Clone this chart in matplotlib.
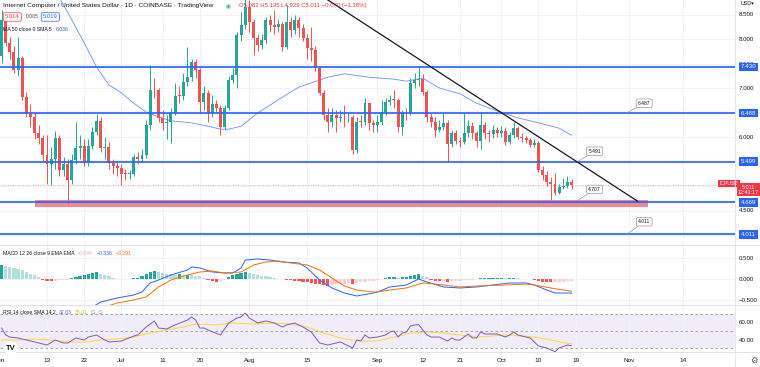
import numpy as np
import matplotlib
matplotlib.use('Agg')
import matplotlib.pyplot as plt
import matplotlib.transforms as mtransforms

W, H = 760, 367
FONT = ['Liberation Sans', 'DejaVu Sans']
plt.rcParams['font.family'] = FONT

# ---------------- data ----------------
open_first = 7.65
closes = [8.39, 7.92, 7.74, 7.37, 7.61, 6.82, 6.49, 6.41, 6.08, 5.98,
          5.63, 5.45, 5.55, 5.98, 5.33, 5.45, 5.12, 5.53, 5.78, 5.82,
          5.47, 5.82, 6.10, 6.33, 5.78, 5.80, 5.47, 5.41, 5.37, 5.25,
          5.24, 5.25, 5.59, 5.55, 5.63, 6.25, 6.96, 6.95, 6.39, 6.29,
          6.30, 6.49, 6.84, 6.83, 7.12, 7.22, 7.53, 7.37, 6.71, 6.90,
          6.49, 6.67, 6.59, 6.20, 6.59, 7.16, 7.27, 8.08, 8.29, 8.65,
          8.35, 8.02, 7.88, 7.98, 8.39, 8.29, 8.25, 8.31, 7.84, 8.35,
          8.18, 8.39, 8.22, 8.02, 7.82, 7.78, 7.41, 6.90, 6.45, 6.31,
          6.45, 6.39, 6.41, 6.40, 6.41, 5.73, 6.31, 6.30, 6.69, 6.29,
          6.25, 6.31, 6.51, 6.71, 6.76, 6.75, 6.20, 6.49, 6.48, 7.10,
          7.16, 7.18, 6.92, 6.41, 6.31, 6.14, 6.20, 6.29, 5.86, 6.08,
          5.92, 5.90, 6.08, 6.22, 6.08, 5.92, 6.25, 6.08, 6.06, 6.14,
          6.08, 6.12, 5.90, 6.04, 6.18, 6.00, 5.98, 5.94, 5.84, 5.88,
          5.33, 5.22, 5.08, 5.04, 4.86, 4.98, 5.00, 5.082, 5.011]
highs = [8.60, 8.55, 8.05, 7.85, 8.05, 7.65, 6.92, 6.68, 6.50, 6.25,
         6.05, 6.05, 5.80, 6.12, 6.05, 5.60, 5.55, 5.65, 6.30, 6.05,
         5.95, 5.95, 6.20, 6.47, 6.40, 6.00, 5.90, 5.55, 5.50, 5.45,
         5.35, 5.33, 5.65, 5.70, 5.75, 6.35, 7.47, 7.20, 7.00, 6.55,
         6.45, 6.60, 7.10, 7.05, 7.30, 7.84, 7.60, 7.60, 7.40, 7.05,
         6.95, 6.85, 6.75, 6.65, 6.65, 7.25, 7.40, 8.15, 8.55, 9.00,
         8.80, 8.40, 8.10, 8.10, 8.45, 8.50, 8.60, 8.40, 8.35, 8.70,
         8.45, 8.50, 8.45, 8.30, 8.10, 8.24, 7.85, 7.45, 6.95, 6.60,
         6.60, 6.55, 6.55, 6.65, 6.50, 6.45, 6.40, 6.45, 6.80, 6.70,
         6.35, 6.45, 6.75, 6.80, 6.85, 6.95, 6.80, 6.55, 6.60, 7.20,
         7.30, 7.43, 7.28, 6.95, 6.50, 6.40, 6.35, 6.49, 6.35, 6.15,
         6.15, 6.00, 6.49, 6.35, 6.30, 6.12, 6.51, 6.30, 6.15, 6.25,
         6.20, 6.22, 6.20, 6.10, 6.30, 6.22, 6.08, 6.02, 5.98, 5.95,
         5.92, 5.40, 5.30, 5.18, 5.27, 5.05, 5.16, 5.20, 5.135]
lows = [7.52, 7.85, 7.60, 7.30, 7.25, 6.75, 6.40, 6.20, 5.95, 5.85,
        5.50, 5.05, 5.02, 5.35, 5.20, 5.20, 4.62, 5.05, 5.45, 5.55,
        5.40, 5.40, 5.75, 6.05, 5.70, 5.55, 5.35, 5.25, 5.20, 5.02,
        5.12, 5.15, 5.20, 5.45, 5.50, 5.58, 6.15, 6.80, 6.30, 6.15,
        5.95, 5.88, 6.45, 6.70, 6.75, 7.05, 7.15, 7.20, 6.50, 6.55,
        6.30, 6.40, 6.50, 6.04, 6.15, 6.55, 7.10, 7.00, 7.95, 8.20,
        8.15, 7.67, 7.75, 7.80, 7.90, 8.15, 8.10, 8.15, 7.75, 7.80,
        8.05, 8.10, 8.05, 7.95, 7.60, 7.55, 7.35, 6.85, 6.35, 6.10,
        6.20, 6.10, 6.30, 6.20, 6.30, 5.65, 5.68, 6.20, 6.25, 6.15,
        6.10, 6.10, 6.25, 6.45, 6.65, 6.60, 6.10, 6.04, 6.35, 6.45,
        7.00, 7.05, 6.85, 6.30, 6.20, 6.00, 6.10, 6.15, 5.49, 5.80,
        5.85, 5.80, 5.85, 6.00, 5.95, 5.80, 5.75, 5.95, 5.90, 5.98,
        6.00, 6.00, 5.84, 5.85, 5.98, 5.95, 5.90, 5.88, 5.80, 5.80,
        5.28, 5.12, 5.00, 4.707, 4.82, 4.84, 4.93, 4.95, 4.929]

ma50_idx = [14, 17, 20, 23, 26, 28, 29, 32, 35, 38, 41, 46, 50, 53, 55, 58, 62, 67,
            72, 79, 83, 89, 95, 98, 102, 106, 111, 115, 120, 125, 130, 135, 138]
ma50_val = [8.85, 8.39, 7.92, 7.43, 7.06, 6.96, 6.90, 6.69, 6.51, 6.41, 6.33, 6.29,
            6.22, 6.16, 6.16, 6.22, 6.49, 6.76, 7.02, 7.22, 7.29, 7.22, 7.18, 7.14,
            7.20, 7.00, 6.88, 6.69, 6.53, 6.39, 6.29, 6.18, 6.036]

hline_levels = [7.430, 6.488, 5.499, 4.669, 4.011]
zone_price = (4.57, 4.71)
zone_idx = (8.2, 156.4)
trend_idx = [72, 154]
trend_price = [9.18, 4.69]
last_price = 5.011

callouts = [  # (label, point idx, point price, text idx, text price)
    ('6.487', 151.3, 6.488, 155.6, 6.69),
    ('5.491', 139.5, 5.499, 143.6, 5.71),
    ('4.707', 139.5, 4.707, 143.6, 4.93),
    ('4.011', 151.3, 4.011, 155.6, 4.27),
]

macd_hist = [0.33, 0.31, 0.29, 0.26, 0.23, 0.21, 0.17, 0.13, 0.09,
             0.04, -0.02, -0.04, -0.05, -0.04,
             -0.03, -0.02, -0.02, 0.02,
             0.05, 0.08, 0.10, 0.13, 0.15, 0.17,
             0.12, 0.10, 0.06, 0.03, 0.01,
             0.00, -0.01, 0.00, 0.02, 0.03,
             0.06, 0.11, 0.16, 0.19, 0.17,
             0.14, 0.12, 0.11, 0.10, 0.11, 0.10,
             0.10, 0.09, 0.07, 0.06, 0.03,
             -0.03, -0.05, -0.06, -0.05, -0.03,
             0.05, 0.09, 0.13, 0.15, 0.17, 0.14,
             0.11, 0.09, 0.08, 0.07, 0.05, 0.03,
             0.01, -0.01, -0.02, -0.03, -0.04,
             -0.05, -0.06, -0.07, -0.09, -0.11, -0.13, -0.15, -0.16,
             -0.15, -0.13, -0.12, -0.11, -0.10, -0.11, -0.09, -0.08, -0.06, -0.05, -0.04, -0.03,
             0.00, 0.02, 0.04, 0.04, 0.03, 0.04, 0.05, 0.07, 0.10, 0.11, 0.07, 0.04,
             -0.02, -0.04, -0.05, -0.05, -0.06, -0.05, -0.05, -0.04,
             -0.03, -0.02, -0.02, -0.01,
             0.02, 0.02, 0.02, 0.03, 0.03, 0.03, 0.02, 0.02, 0.03, 0.02, 0.01, 0.00, -0.01,
             -0.02, -0.04, -0.06, -0.07, -0.08, -0.08,
             -0.07, -0.06, -0.05, -0.046]

macd_idx = [22, 24, 28, 32, 34, 36, 38, 41, 45, 46, 48, 51, 54, 56, 58, 59, 62, 65, 68,
            72, 74, 77, 80, 83, 86, 90, 91, 94, 98, 101, 103, 107, 111, 115, 119, 123,
            127, 129, 132, 134, 138]
macd_val = [-0.667, -0.548, -0.452, -0.381, -0.31, -0.095, -0.024, 0.095, 0.214, 0.286,
            0.262, 0.167, 0.143, 0.143, 0.262, 0.452, 0.476, 0.452, 0.405, 0.381, 0.262,
            -0.024, -0.214, -0.333, -0.405, -0.333, -0.31, -0.19, -0.143, 0.0, -0.071,
            -0.19, -0.214, -0.19, -0.143, -0.095, -0.095, -0.143, -0.262, -0.333, -0.336]
signal_idx = [25, 28, 32, 35, 38, 41, 45, 48, 51, 54, 58, 61, 64, 67, 70, 74, 77, 80,
              83, 86, 90, 91, 94, 98, 102, 105, 111, 115, 122, 127, 129, 133, 138]
signal_val = [-0.667, -0.571, -0.5, -0.429, -0.19, -0.024, 0.095, 0.167, 0.19, 0.143,
              0.167, 0.333, 0.405, 0.429, 0.381, 0.333, 0.214, 0.024, -0.167, -0.262,
              -0.31, -0.31, -0.262, -0.214, -0.095, -0.119, -0.19, -0.167, -0.143,
              -0.119, -0.143, -0.214, -0.291]

rsi_idx = [0, 1, 2, 4, 6, 8, 11, 13, 15, 16, 18, 20, 21, 23, 25, 26, 29, 32, 33, 35,
           37, 38, 40, 42, 45, 46, 47, 48, 49, 50, 53, 55, 57, 58, 59, 60, 62, 64, 66,
           68, 69, 71, 73, 75, 77, 79, 82, 85, 86, 87, 88, 89, 91, 93, 94, 95, 96, 97,
           98, 99, 100, 101, 102, 103, 104, 106, 108, 109, 110, 111, 113, 114, 115,
           116, 117, 119, 120, 122, 123, 124, 125, 127, 128, 130, 132, 134, 135, 137, 138]
rsi_val = [53.5, 45.3, 42.9, 41.8, 39.4, 37.1, 33.5, 39.4, 35.9, 35.9, 41.8, 39.4, 42.9,
           45.3, 39.4, 37.1, 38.2, 44.1, 45.3, 54.7, 61.8, 53.5, 52.4, 57.1, 62.9, 66.5,
           62.9, 53.5, 53.5, 51.2, 45.3, 59.4, 65.3, 66.5, 71.2, 65.3, 59.4, 61.8, 59.4,
           54.7, 57.1, 59.4, 54.7, 48.8, 35.9, 33.5, 37.1, 30.0, 39.4, 38.5, 45.3, 41.8,
           42.9, 45.3, 48.8, 50.0, 42.9, 47.6, 48.8, 55.9, 57.1, 57.5, 51.2, 45.3, 42.9,
           42.9, 38.2, 41.8, 39.4, 39.4, 46.5, 41.8, 41.8, 48.8, 46.5, 46.5, 46.5, 42.9,
           45.3, 48.8, 45.3, 42.9, 41.8, 32.4, 30.0, 25.6, 30.0, 33.5, 32.83]
rsima_idx = [0, 4, 8, 12, 16, 20, 24, 28, 32, 36, 40, 44, 47, 52, 56, 61, 66, 70, 74,
             78, 83, 87, 91, 95, 99, 103, 107, 111, 115, 122, 126, 129, 133, 137, 138]
rsima_val = [39.4, 39.4, 40.6, 39.4, 37.1, 37.1, 39.4, 40.6, 42.9, 47.6, 51.2, 54.7,
             58.2, 57.1, 59.4, 58.2, 59.4, 58.2, 54.7, 47.6, 40.6, 38.2, 38.2, 42.9,
             47.6, 48.8, 47.6, 45.3, 42.9, 45.3, 44.1, 42.9, 39.4, 35.5, 35.01]

tick_idx = [11, 20, 29, 39, 48, 60, 74, 91, 102, 111, 121, 130, 139, 152, 165]
tick_lab = ['13', '22', 'Jul', '11', '20', 'Aug', '15', 'Sep', '12', '21', 'Oct',
            '10', '19', 'Nov', '14']

# ---------------- figure ----------------
GREEN, RED = '#26a69a', '#ef5350'
BLUE = '#2962ff'
TXT = '#131722'
GRID = '#f0f3fa'
FS = 4.4
LFS = 3.7

fig = plt.figure(figsize=(W / 100, H / 100), dpi=100)
fig.patch.set_facecolor('white')


def frect(x0, y0, x1, y1):
    return [x0 / W, 1 - y1 / H, (x1 - x0) / W, (y1 - y0) / H]


ax = fig.add_axes(frect(0, 0, 735, 245))
axm = fig.add_axes(frect(0, 245, 735, 305), sharex=ax)
axr = fig.add_axes(frect(0, 305, 735, 352), sharex=ax)

PX, X0 = 4.13, 1.57
ax.set_xlim((0 - X0) / PX, (735 - X0) / PX)
ax.set_ylim(8 - (245 - 39) / 49, 8 + 39 / 49)
axm.set_ylim(-(305 - 279) / 42, (279 - 245) / 42)
axr.set_ylim(70 - (352 - 314) / 0.85, 70 + (314 - 305) / 0.85)

for a in (ax, axm, axr):
    for s in a.spines.values():
        s.set_visible(False)
    a.set_xticks(tick_idx)
    a.grid(True, axis='x', color=GRID, lw=0.8, zorder=0)
    a.tick_params(axis='both', length=0, labelsize=FS, labelcolor=TXT)
    a.yaxis.tick_right()
ax.tick_params(labelbottom=False)
axm.tick_params(labelbottom=False)
axr.set_xticklabels(tick_lab)
axr.tick_params(axis='x', pad=4.4, labelsize=4.6)

# main price ticks
pticks = [4.0, 4.5, 5.0, 5.5, 6.0, 6.5, 7.0, 7.5, 8.0, 8.5]
plabs = ['' if p in (4.0, 5.0, 5.5, 6.5) else f'{p:.3f}' for p in pticks]
ax.set_yticks(pticks)
ax.set_yticklabels(plabs)
ax.grid(True, axis='y', color=GRID, lw=0.8, zorder=0)
ax.tick_params(axis='y', pad=2.5)

axm.set_yticks([0.5, 0.0, -0.5])
axm.set_yticklabels(['0.500', '0.000', '\u22120.500'])
axm.grid(True, axis='y', color=GRID, lw=0.8, zorder=0)
axm.tick_params(axis='y', pad=2.5)
axr.set_yticks([60, 40])
axr.set_yticklabels(['60.00', '40.00'])
axr.tick_params(axis='y', pad=2.5)

# ---------------- candles ----------------
idx = np.arange(len(closes))
c = np.array(closes)
o = np.array([open_first] + closes[:-1])
h = np.array(highs)
l = np.array(lows)
up = c >= o
cols = np.where(up, GREEN, RED)
ax.vlines(idx, l, h, colors=cols, lw=0.7, zorder=4)
ax.bar(idx, np.maximum(np.abs(c - o), 0.018), bottom=np.minimum(o, c), width=0.72,
       color=cols, linewidth=0, zorder=5)

# MA 50
ax.plot(ma50_idx, ma50_val, color='#4f7cff', lw=0.6, alpha=0.85, zorder=3)

# zone rectangle
ax.fill_between(zone_idx, zone_price[0], zone_price[1], color='#f6737b', alpha=0.85,
                lw=0, zorder=6)
# horizontal levels
for lv in hline_levels:
    ax.axhline(lv, color=BLUE, lw=1.5, alpha=0.85, zorder=7)
# trend line
ax.plot(trend_idx, trend_price, color=TXT, lw=0.9, zorder=8)
# current price dotted line
ax.axhline(last_price, color='#f23645', lw=0.6, ls=(0, (1, 2)), alpha=0.6, zorder=2)

# callouts
for lab, pi, pp, ti, tp in callouts:
    ax.annotate(lab, xy=(pi, pp), xytext=(ti, tp), fontsize=3.6, color=TXT,
                ha='center', va='center', zorder=9,
                bbox=dict(boxstyle='round,pad=0.35,rounding_size=0.3', fc='white',
                          ec='#9598a1', lw=0.5),
                arrowprops=dict(arrowstyle='-', color='#9598a1', lw=0.5,
                                shrinkA=0, shrinkB=0))

# right-axis level tags
tr = mtransforms.blended_transform_factory(fig.transFigure, ax.transData)
for lv in hline_levels:
    ax.text(748.5 / W, lv, f'{lv:.3f}', transform=tr, fontsize=FS, color='white',
            ha='center', va='center', zorder=10, clip_on=False,
            bbox=dict(boxstyle='square,pad=0.3', fc=BLUE, ec='none'))
ax.text(729 / W, last_price + 0.035, 'ICPUSD', transform=tr, fontsize=3.6, color='white',
        ha='center', va='center', zorder=10, clip_on=False,
        bbox=dict(boxstyle='square,pad=0.25', fc='#f23645', ec='none'))
ax.text(748.5 / W, last_price - 0.09, f'{last_price:.3f}\n12:41:17', transform=tr,
        fontsize=3.9, color='white', ha='center', va='center', zorder=10, clip_on=False,
        linespacing=1.1,
        bbox=dict(boxstyle='square,pad=0.25', fc='#f23645', ec='none'))

# ---------------- MACD ----------------
hist = np.array(macd_hist)
prev = np.r_[hist[0], hist[:-1]]
hcol = np.where(hist >= 0, np.where(hist >= prev, '#26a69a', '#b2dfdb'),
                np.where(hist < prev, '#ff5252', '#ffcdd2'))
axm.bar(idx, hist, width=0.78, color=hcol, linewidth=0, zorder=2)
axm.plot(macd_idx, macd_val, color=BLUE, lw=0.7, zorder=3)
axm.plot(signal_idx, signal_val, color='#ff6d00', lw=0.7, zorder=3)

# ---------------- RSI ----------------
axr.axhspan(30, 70, color='#7e57c2', alpha=0.1, lw=0, zorder=1)
for lv in (70, 50, 30):
    axr.axhline(lv, color='#9598a1', lw=0.6, ls=(0, (3, 3)), zorder=2)
axr.plot(rsima_idx, rsima_val, color='#fdd835', lw=0.7, zorder=3)
axr.plot(rsi_idx, rsi_val, color='#7e57c2', lw=0.7, zorder=4)

# pane separators
for yy in (245, 305, 352):
    fig.add_artist(plt.Line2D([0, 1], [1 - yy / H, 1 - yy / H], color='#e0e3eb', lw=0.8))
fig.add_artist(plt.Line2D([735 / W, 735 / W], [0, 1], color='#e0e3eb', lw=0.6))


# ---------------- texts ----------------
def T(x, y, s, **kw):
    kw.setdefault('fontsize', LFS)
    kw.setdefault('color', TXT)
    return fig.text(x / W, 1 - y / H, s, va='center', ha='left', **kw)


T(3, 5.5, 'Internet Computer / United States Dollar \u00b7 1D \u00b7 COINBASE \u00b7 TradingView',
  fontsize=4.65)
fig.add_artist(plt.Line2D([228 / W], [1 - 5.5 / H], marker='o', ms=2.6, color=GREEN,
                          mec='#a8dcd6', mew=1.0))
T(239, 5.5, 'O5.082 H5.135 L4.929 C5.011 \u22120.070 (\u22121.38%)', color='#f23645',
  fontsize=4.3)
T(5, 17, '5.014', color='#f23645', fontsize=4.2,
  bbox=dict(boxstyle='round,pad=0.3,rounding_size=0.3', fc='white', ec='#f23645', lw=0.5))
T(26, 17, '0.005', color='#50535e', fontsize=3.7)
T(43, 17, '5.019', color=BLUE, fontsize=4.2,
  bbox=dict(boxstyle='round,pad=0.3,rounding_size=0.3', fc='white', ec=BLUE, lw=0.5))
T(3, 29.5, 'MA 50 close 0 SMA 5')
T(56, 29.5, '6.036', color=BLUE)

T(3, 253.5, 'MACD 12 26 close 9 EMA EMA')
T(77, 253.5, '\u22120.046', color='#f7a1a8')
T(97, 253.5, '\u22120.336', color=BLUE)
T(116, 253.5, '\u22120.291', color='#ff6d00')

T(3, 312, 'RSI 14 close SMA 14 2')
T(59, 312, '32.83', color='#7e57c2')
T(75, 312, '35.01', color='#e6c619')
T(91, 312, '\u2205  \u2205', color='#787b86')

T(741, 3.5, 'USD\u25be', fontsize=3.9)
T(750, 360, '\u2699', fontsize=6.0, color='#50535e', family=['DejaVu Sans'])
T(-5, 360, 'Jun', fontsize=4.6)

# TradingView logo
T(6, 348.5, 'TV', fontsize=5.5, weight='bold',
  bbox=dict(boxstyle='circle,pad=0.25', fc='white', ec='none'))

fig.savefig('out.png', dpi=100, facecolor='white')
